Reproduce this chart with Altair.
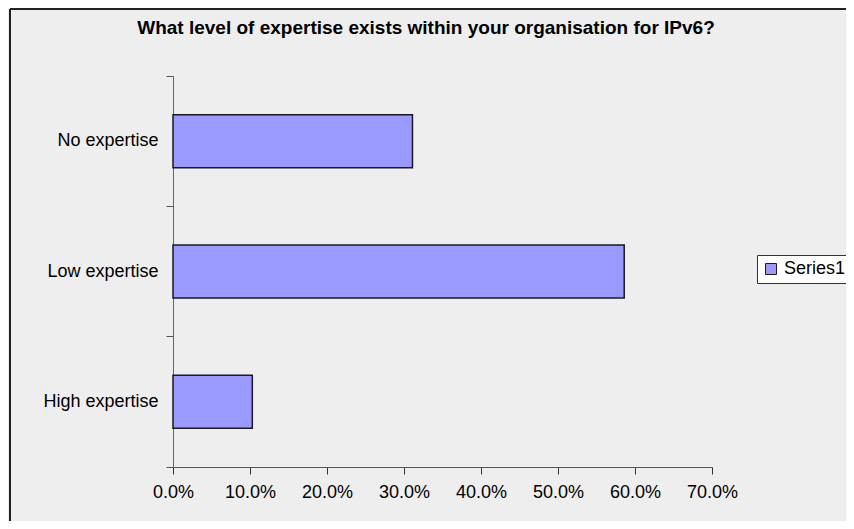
import altair as alt
import pandas as pd

categories = ["No expertise", "Low expertise", "High expertise"]
values = [0.311, 0.586, 0.103]
series = ["Series1", "Series1", "Series1"]
x_ticks = [0.0, 0.1, 0.2, 0.3, 0.4, 0.5, 0.6, 0.7]
title_text = "What level of expertise exists within your organisation for IPv6?"

df = pd.DataFrame({"category": categories, "value": values, "series": series})
title_df = pd.DataFrame({"t": [title_text]})

FONT = "Liberation Sans"
W, H = 539, 391
PAD = {"left": 165, "top": 68, "right": 134, "bottom": 54}

bars = alt.Chart(df).mark_bar(
    size=53, fill="#9999FF", stroke="#1a1a1a", strokeWidth=1.5
).encode(
    x=alt.X(
        "value:Q",
        scale=alt.Scale(domain=[0, 0.7], nice=False, zero=True),
        axis=alt.Axis(
            values=x_ticks, format=".1%", title=None, grid=False,
            labelFont=FONT, labelFontSize=18, labelColor="black",
            tickSize=7, tickColor="#333333", domainColor="#555555",
            labelPadding=9, labelFlush=False,
        ),
    ),
    y=alt.Y(
        "category:N",
        sort=categories,
        scale=alt.Scale(paddingInner=0, paddingOuter=0),
        axis=alt.Axis(
            title=None, grid=False, labelFont=FONT, labelFontSize=18,
            labelColor="black", tickSize=7, tickColor="#555555",
            domainColor="#666666", bandPosition=1, tickExtra=True,
            labelPadding=8,
        ),
    ),
    color=alt.Color(
        "series:N",
        scale=alt.Scale(range=["#9999FF"]),
        legend=alt.Legend(
            title=None, orient="none", legendX=584, legendY=179,
            symbolType="square", symbolSize=121, symbolStrokeColor="#1a1a1a",
            symbolStrokeWidth=1, symbolFillColor="#9999FF",
            labelFont=FONT, labelFontSize=18, labelColor="black",
            strokeColor="#333333", fillColor="white", padding=5,
            labelOffset=4,
        ),
    ),
)

title_mark = alt.Chart(title_df).mark_text(
    font=FONT, fontSize=19, fontWeight="bold", color="black",
    align="center", baseline="middle",
).encode(text="t:N", x=alt.value(253), y=alt.value(-48))

border_left = alt.Chart(df).mark_rule(color="#222222", strokeWidth=2).encode(
    x=alt.value(-163), y=alt.value(-67), y2=alt.value(H + PAD["bottom"])
)
border_top = alt.Chart(df).mark_rule(color="#222222", strokeWidth=2).encode(
    x=alt.value(-163), x2=alt.value(W + PAD["right"]), y=alt.value(-67)
)

chart = alt.layer(bars, title_mark, border_left, border_top).properties(
    width=W,
    height=H,
    autosize=alt.AutoSizeParams(type="none"),
    padding=PAD,
    background="#EEEEEE",
).configure_view(stroke=None)

chart.save("out.html", embed_options={"renderer": "svg", "actions": False})
